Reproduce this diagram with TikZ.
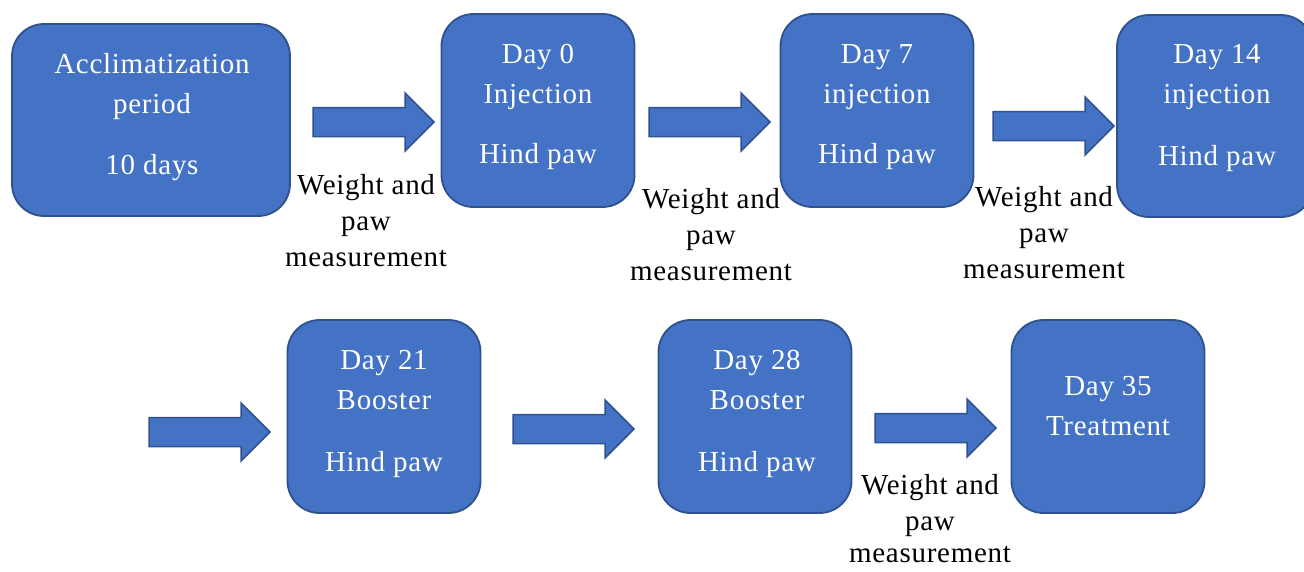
\documentclass[tikz,border=0pt]{standalone}
\usepackage{fontspec}
\setmainfont[LetterSpace=2.5]{Liberation Serif}
\definecolor{boxfill}{HTML}{4472C4}
\definecolor{boxline}{HTML}{2F528F}
\tikzset{
  stagebox/.style={draw=boxline, fill=boxfill, line width=1.8pt, rounded corners=32pt, inner sep=0pt},
  boxtext/.style={text=white, align=center, inner sep=0pt, anchor=north, font=\fontsize{29}{40}\selectfont},
  measlabel/.style={text=black, align=center, inner sep=0pt, anchor=north, font=\fontsize{29}{36}\selectfont},
  blockarrow/.pic={\draw[draw=boxline, fill=boxfill, line width=1.5pt, line join=miter]
     (0,-14.5) -- (92,-14.5) -- (92,-29) -- (121,0) -- (92,29) -- (92,14.5) -- (0,14.5) -- cycle;}
}
\begin{document}
\begin{tikzpicture}[x=1pt, y=-1pt]
\useasboundingbox (0,0) rectangle (1304,571);
% boxes
\node[stagebox, minimum width=278pt, minimum height=192pt] (b1) at (151,120) {};
\node[stagebox, minimum width=193pt, minimum height=193pt] (b2) at (538,110.5) {};
\node[stagebox, minimum width=193pt, minimum height=193pt] (b3) at (877,110.5) {};
\node[stagebox, minimum width=196pt, minimum height=202pt] (b4) at (1215,116) {};
\node[stagebox, minimum width=193pt, minimum height=193pt] (b5) at (384,416.5) {};
\node[stagebox, minimum width=193pt, minimum height=193pt] (b6) at (755,416.5) {};
\node[stagebox, minimum width=193pt, minimum height=193pt] (b7) at (1108,416.5) {};
% box texts
\node[boxtext] (t1) at (152,53) {Acclimatization\\period\\[21pt]10 days};
\node[boxtext] (t2) at (538,44) {Day 0\\Injection\\[20pt]Hind paw};
\node[boxtext] (t3) at (877,44) {Day 7\\injection\\[20pt]Hind paw};
\node[boxtext] (t4) at (1217,44) {Day 14\\injection\\[22pt]Hind paw};
\node[boxtext] (t5) at (384,350) {Day 21\\Booster\\[22pt]Hind paw};
\node[boxtext] (t6) at (757,350) {Day 28\\Booster\\[22pt]Hind paw};
\node[boxtext] (t7) at (1108,376) {Day 35\\Treatment};
% arrows
\pic at (313,122) {blockarrow};
\pic at (649,122) {blockarrow};
\pic at (993,126) {blockarrow};
\pic at (149,432) {blockarrow};
\pic at (513,429) {blockarrow};
\pic at (875,428) {blockarrow};
% measurement labels
\node[measlabel] (m1) at (366,174) {Weight and\\paw\\measurement};
\node[measlabel] (m2) at (711,188) {Weight and\\paw\\measurement};
\node[measlabel] (m3) at (1044,186) {Weight and\\paw\\measurement};
\node[measlabel] (m4) at (930,474) {Weight and\\paw\\[-4pt]measurement};
\end{tikzpicture}
\end{document}
